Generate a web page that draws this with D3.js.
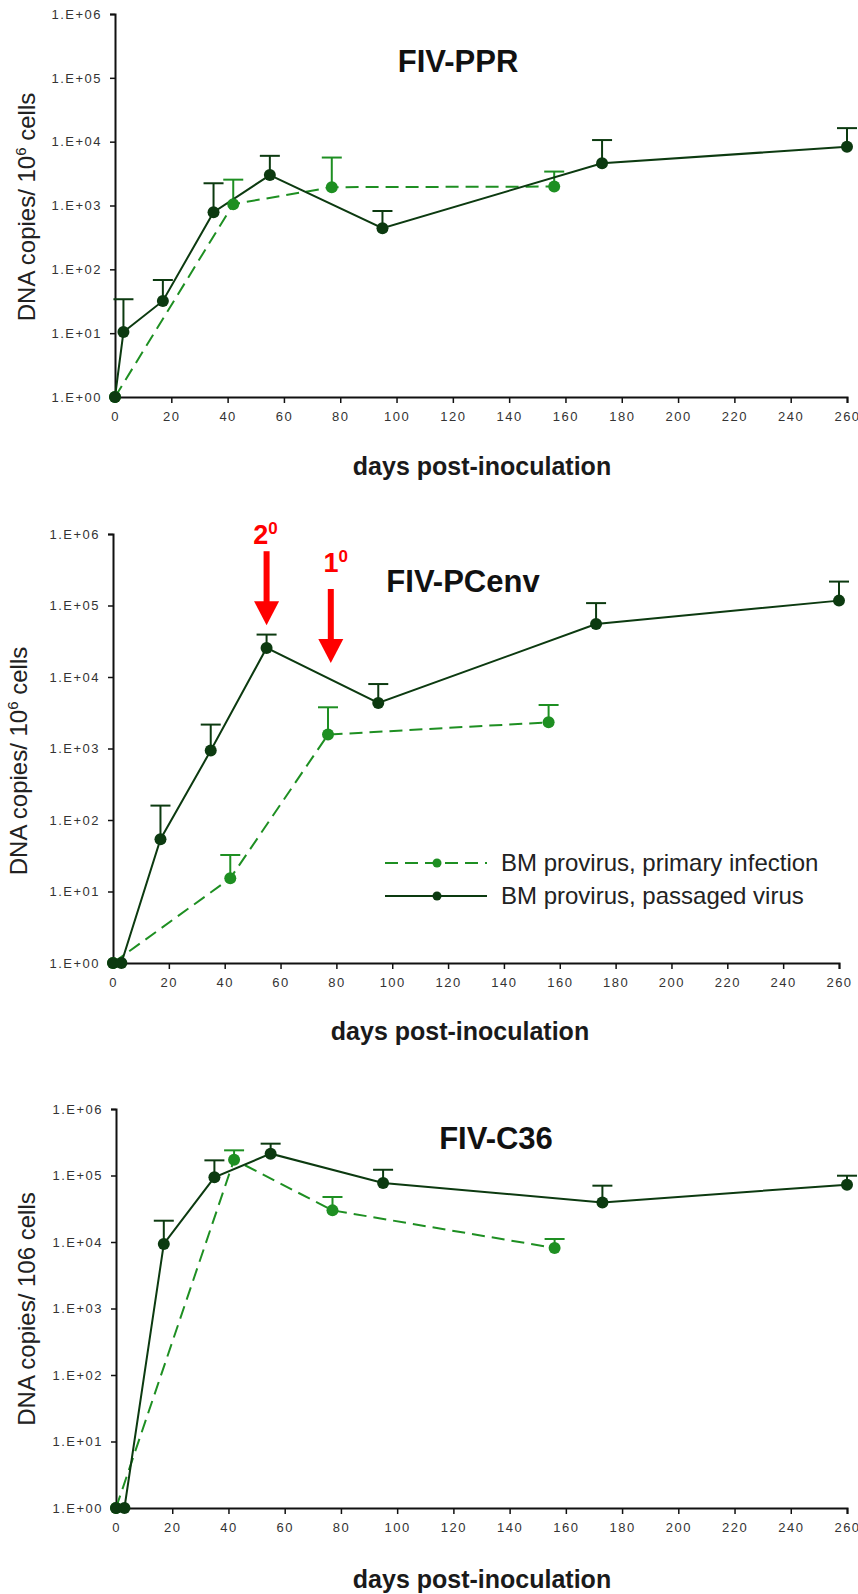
<!DOCTYPE html>
<html>
<head>
<meta charset="utf-8">
<script src="https://cdn.jsdelivr.net/npm/d3@7"></script>
<style>
    body { margin: 0; background: #fff; }
    svg text { font-family: "Liberation Sans", Arial, sans-serif; }
</style>
</head>
<body>
<div id="chart"></div>
<script>

// days post-inoculation for the two series
const passagedDays = [0, 3, 17, 35, 55, 95, 173, 260];
const primaryDays = [0, 42, 77, 156];

// DNA copies / 10^6 cells (mean) and top of error bar
const pprPassaged = [1, 10.4, 32, 785, 3000, 440, 4600, 8300];
const pprPassagedTop = [null, 34, 68, 2230, 6000, 820, 10600, 16300];
const pprPrimary = [1, 1050, 1935, 1980];
const pprPrimaryTop = [null, 2540, 5640, 3400];

const pcenvPassaged = [1, 1, 54, 935, 25500, 4330, 55100, 117000];
const pcenvPassagedTop = [null, null, 159, 2160, 39200, 7970, 108000, 216000];
const pcenvPrimary = [1, 15.3, 1565, 2325];
const pcenvPrimaryTop = [null, 32.4, 3770, 4060];

const c36Passaged = [1, 1, 9330, 94000, 213000, 77100, 39400, 72700];
const c36PassagedTop = [null, null, 20900, 169000, 301000, 122000, 70300, 99300];
const c36Primary = [1, 173000, 29900, 8130];
const c36PrimaryTop = [null, 239000, 47500, 11100];

const panelTitles = ["FIV-PPR", "FIV-PCenv", "FIV-C36"];
const yAxisTitles = [["DNA copies/ 10", "6", " cells"], ["DNA copies/ 10", "6", " cells"], ["DNA copies/ 106 cells"]];
const xAxisTitle = "days post-inoculation";
const legendLabels = ["BM provirus, primary infection", "BM provirus, passaged virus"];
const xTicks = [0, 20, 40, 60, 80, 100, 120, 140, 160, 180, 200, 220, 240, 260];
const yTicks = [1, 10, 100, 1000, 10000, 100000, 1000000];

// red arrows in the FIV-PCenv panel
const arrowLabels = ["2", "1"];
const arrowDays = [55, 78];
const arrowTips = [53000, 15700];

class ProvirusPanel {

    constructor(svg, index, passaged, passagedTop, primary, primaryTop) {
        this.svg = svg;
        this.index = index;
        this.passaged = passagedDays.map((d, i) => ({ day: d, v: passaged[i], top: passagedTop[i] }));
        this.primary = primaryDays.map((d, i) => ({ day: d, v: primary[i], top: primaryTop[i] }));
        this.initVis();
    }

    initVis() {
        let vis = this;

        // pixel box of each panel
        vis.box = [
            { left: 115, right: 847, top: 14, bottom: 397, titleX: 458, titleY: 72, xTitleX: 482, xTitleY: 475, yTitleX: 35, yTitleY: 207 },
            { left: 113, right: 839, top: 534, bottom: 963, titleX: 463, titleY: 592, xTitleX: 460, xTitleY: 1040, yTitleX: 27, yTitleY: 761 },
            { left: 116, right: 847, top: 1109, bottom: 1508, titleX: 496, titleY: 1149, xTitleX: 482, xTitleY: 1588, yTitleX: 35, yTitleY: 1309 }
        ][vis.index];

        vis.x = d3.scaleLinear().domain([0, 260]).range([vis.box.left, vis.box.right]);
        vis.y = d3.scaleLog().domain([1, 1e6]).range([vis.box.bottom, vis.box.top]);

        vis.g = vis.svg.append("g").attr("class", "panel");

        // axes
        let yAxis = d3.axisLeft(vis.y)
            .tickValues(yTicks)
            .tickSize(5)
            .tickPadding(8)
            .tickFormat(d => "1.E+" + String(Math.round(Math.log10(d))).padStart(2, "0"));

        let xAxis = d3.axisBottom(vis.x)
            .tickValues(xTicks)
            .tickSize(6)
            .tickPadding(9)
            .tickFormat(d3.format("d"));

        vis.g.append("g")
            .attr("transform", `translate(${vis.box.left},0)`)
            .call(yAxis);

        vis.g.append("g")
            .attr("transform", `translate(0,${vis.box.bottom})`)
            .call(xAxis);

        vis.g.selectAll(".domain").attr("stroke", "#111").attr("stroke-width", 2);
        vis.g.selectAll(".tick line").attr("stroke", "#111").attr("stroke-width", 1.5);
        vis.g.selectAll(".tick text")
            .style("font-size", "13px")
            .style("letter-spacing", "1.5px")
            .attr("fill", "#333");

        // titles
        vis.g.append("text")
            .text(panelTitles[vis.index])
            .attr("x", vis.box.titleX)
            .attr("y", vis.box.titleY)
            .attr("text-anchor", "middle")
            .style("font-size", "31px")
            .style("font-weight", "bold")
            .attr("fill", "#111");

        vis.g.append("text")
            .text(xAxisTitle)
            .attr("x", vis.box.xTitleX)
            .attr("y", vis.box.xTitleY)
            .attr("text-anchor", "middle")
            .style("font-size", "25px")
            .style("font-weight", "bold")
            .attr("fill", "#1a1a1a");

        let yTitle = vis.g.append("text")
            .attr("transform", `translate(${vis.box.yTitleX},${vis.box.yTitleY}) rotate(-90)`)
            .attr("text-anchor", "middle")
            .style("font-size", "24px")
            .attr("fill", "#222");
        let parts = yAxisTitles[vis.index];
        yTitle.append("tspan").text(parts[0]);
        if (parts.length > 1) {
            yTitle.append("tspan").text(parts[1]).style("font-size", "15px").attr("dy", -9);
            yTitle.append("tspan").text(parts[2]).attr("dy", 9);
        }

        vis.updateVis();
    }

    updateVis() {
        let vis = this;

        vis.dark = "#0c3a10";
        vis.light = "#1e8f22";

        let line = d3.line().x(d => vis.x(d.day)).y(d => vis.y(d.v));

        // error bars (upper only)
        [[vis.primary, vis.light], [vis.passaged, vis.dark]].forEach(([data, col]) => {
            let bars = vis.g.append("g").selectAll("g")
                .data(data.filter(d => d.top))
                .enter().append("g")
                .attr("stroke", col)
                .attr("stroke-width", 2);
            bars.append("line")
                .attr("x1", d => vis.x(d.day)).attr("x2", d => vis.x(d.day))
                .attr("y1", d => vis.y(d.v)).attr("y2", d => vis.y(d.top));
            bars.append("line")
                .attr("x1", d => vis.x(d.day) - 10).attr("x2", d => vis.x(d.day) + 10)
                .attr("y1", d => vis.y(d.top)).attr("y2", d => vis.y(d.top));
        });

        vis.g.append("path")
            .datum(vis.primary)
            .attr("d", line)
            .attr("fill", "none")
            .attr("stroke", vis.light)
            .attr("stroke-width", 2)
            .attr("stroke-dasharray", "13,7");

        vis.g.append("path")
            .datum(vis.passaged)
            .attr("d", line)
            .attr("fill", "none")
            .attr("stroke", vis.dark)
            .attr("stroke-width", 2);

        vis.g.append("g").selectAll("circle")
            .data(vis.primary)
            .enter().append("circle")
            .attr("cx", d => vis.x(d.day))
            .attr("cy", d => vis.y(d.v))
            .attr("r", 6)
            .attr("fill", vis.light);

        vis.g.append("g").selectAll("circle")
            .data(vis.passaged)
            .enter().append("circle")
            .attr("cx", d => vis.x(d.day))
            .attr("cy", d => vis.y(d.v))
            .attr("r", 6)
            .attr("fill", vis.dark);
    }

    drawArrows() {
        let vis = this;
        let labelGap = [7, 17], labelShift = [-1, 5];

        arrowLabels.forEach((lab, i) => {
            let ax = vis.x(arrowDays[i]), tip = vis.y(arrowTips[i]);
            let a = vis.g.append("g").attr("fill", "#ff0000");
            a.append("rect")
                .attr("x", ax - 3).attr("y", tip - 74)
                .attr("width", 6).attr("height", 51);
            a.append("path")
                .attr("d", `M${ax - 12.5},${tip - 24}L${ax + 12.5},${tip - 24}L${ax},${tip}Z`);
            let t = a.append("text")
                .attr("x", ax + labelShift[i])
                .attr("y", tip - 74 - labelGap[i])
                .attr("text-anchor", "middle")
                .style("font-size", "27px")
                .style("font-weight", "bold");
            t.append("tspan").text(lab);
            t.append("tspan").text("0").style("font-size", "17px").attr("dy", -10);
        });
    }

    drawLegend() {
        let vis = this;
        let lx = vis.box.left + 272, rows = [vis.box.top + 329, vis.box.top + 362];
        let styles = [[vis.light, "13,7"], [vis.dark, null]];

        legendLabels.forEach((lab, i) => {
            let g = vis.g.append("g");
            g.append("line")
                .attr("x1", lx).attr("x2", lx + 102)
                .attr("y1", rows[i]).attr("y2", rows[i])
                .attr("stroke", styles[i][0])
                .attr("stroke-width", 2)
                .attr("stroke-dasharray", styles[i][1]);
            g.append("circle")
                .attr("cx", lx + 52).attr("cy", rows[i])
                .attr("r", 4.5)
                .attr("fill", styles[i][0]);
            g.append("text")
                .text(lab)
                .attr("x", lx + 116)
                .attr("y", rows[i])
                .attr("dy", "0.35em")
                .style("font-size", "24px")
                .attr("fill", "#222");
        });
    }
}

let svg = d3.select("#chart").append("svg")
    .attr("width", 858)
    .attr("height", 1594);

new ProvirusPanel(svg, 0, pprPassaged, pprPassagedTop, pprPrimary, pprPrimaryTop);
let pcenv = new ProvirusPanel(svg, 1, pcenvPassaged, pcenvPassagedTop, pcenvPrimary, pcenvPrimaryTop);
pcenv.drawArrows();
pcenv.drawLegend();
new ProvirusPanel(svg, 2, c36Passaged, c36PassagedTop, c36Primary, c36PrimaryTop);

</script>
</body>
</html>
